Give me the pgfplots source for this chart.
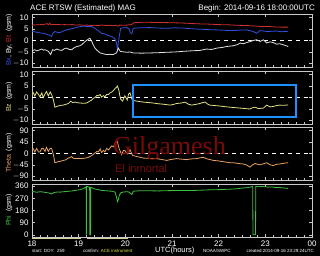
\documentclass[border=0pt]{standalone}
\usepackage{pgfplots}
\pgfplotsset{compat=1.18}
\usepackage{fontspec}
\setmainfont{Liberation Sans}
\newfontfamily\wmserif{Liberation Serif}
\definecolor{btred}{HTML}{D03030}
\definecolor{bxblue}{HTML}{3050E0}
\definecolor{bywhite}{HTML}{E0E0E0}
\definecolor{bzyel}{HTML}{E0E080}
\definecolor{thor}{HTML}{E8A060}
\definecolor{phigr}{HTML}{40C040}
\definecolor{frm}{HTML}{C8C8C8}
\definecolor{wm}{HTML}{7A0A0A}
\definecolor{boxblue}{HTML}{1E90FF}
\definecolor{beige}{HTML}{D8D0A0}
\definecolor{acey}{HTML}{E0E040}
\pgfplotsset{
 panel/.style={
  scale only axis, width=280pt, height=53pt,
  xmin=18, xmax=24,
  axis line style={frm, line width=0.6pt},
  tick style={frm, line width=0.5pt},
  major tick length=3pt, minor tick length=1.5pt,
  xtick={18,...,24}, minor x tick num=5,
  tick align=inside,
  yticklabel pos=left,
  tick label style={white, font=\fontsize{8}{9}\selectfont},
  anchor=north west,
  clip mode=individual,
 },
}
\tikzset{
 zline/.style={white, line width=0.6pt, dash pattern=on 4pt off 4pt},
 dl/.style={line width=0.8pt},
}
\begin{document}
\begin{tikzpicture}
\fill[black] (0,0) rectangle (320pt,256pt);
% Panel 1
\begin{axis}[panel, at={(32pt,242pt)}, ymin=-11.5, ymax=11.5, ytick={-10,-5,0,5,10}, yticklabels={$-$10,$-$5,0,5,10}, xticklabel=\empty]
\addplot[zline] coordinates {(18,0)(24,0)};
\addplot[dl, btred] coordinates {(18.00,6.6)(18.04,6.8)(18.08,6.7)(18.12,6.9)(18.16,6.8)(18.20,7.0)(18.24,6.8)(18.28,7.1)(18.32,7.3)(18.35,6.9)(18.38,7.4)(18.41,6.8)(18.45,7.0)(18.50,6.9)(18.56,7.0)(18.62,6.8)(18.70,6.9)(18.78,6.8)(18.86,6.9)(18.94,6.7)(19.02,6.8)(19.10,6.6)(19.18,6.7)(19.26,6.5)(19.34,6.6)(19.42,6.5)(19.50,6.7)(19.58,6.5)(19.66,6.6)(19.74,6.4)(19.80,6.6)(19.84,6.2)(19.88,6.7)(19.95,6.6)(20.05,6.7)(20.12,6.9)(20.16,7.2)(20.18,7.7)(20.25,7.8)(20.35,7.9)(20.50,7.9)(20.65,7.8)(20.80,7.8)(21.00,7.7)(21.20,7.6)(21.40,7.4)(21.60,7.2)(21.80,7.1)(22.00,6.9)(22.20,6.8)(22.40,6.6)(22.60,6.5)(22.75,6.3)(22.90,6.1)(23.05,6.1)(23.20,5.9)(23.35,5.8)(23.49,5.8)};
\addplot[dl, bxblue] coordinates {(18.00,4.1)(18.05,3.8)(18.10,3.6)(18.17,3.3)(18.24,3.1)(18.30,2.8)(18.35,2.4)(18.39,2.2)(18.42,1.8)(18.45,3.2)(18.49,3.9)(18.55,3.5)(18.60,3.4)(18.67,4.1)(18.74,4.6)(18.82,5.0)(18.89,5.3)(18.96,5.8)(19.03,6.0)(19.10,6.2)(19.18,6.1)(19.28,6.0)(19.34,5.4)(19.39,4.6)(19.44,4.0)(19.49,3.1)(19.55,2.9)(19.60,2.4)(19.66,2.0)(19.71,1.7)(19.75,1.2)(19.78,0.6)(19.81,-1.0)(19.83,-4.0)(19.85,-1.0)(19.87,1.7)(19.90,5.3)(19.96,5.5)(20.03,5.6)(20.08,5.0)(20.11,3.4)(20.14,2.9)(20.17,5.3)(20.30,5.5)(20.53,5.6)(20.70,5.4)(20.89,5.3)(21.05,5.5)(21.24,5.4)(21.40,5.1)(21.60,4.9)(21.80,4.7)(21.96,4.6)(22.15,4.4)(22.31,4.3)(22.45,4.5)(22.60,4.6)(22.70,4.1)(22.74,3.9)(22.81,3.1)(22.89,4.3)(23.03,3.9)(23.15,4.0)(23.24,4.1)(23.35,3.8)(23.49,4.0)};
\addplot[dl, bywhite] coordinates {(18.00,-4.7)(18.03,-4.2)(18.06,-4.0)(18.10,-4.5)(18.14,-4.3)(18.18,-3.9)(18.21,-3.7)(18.25,-4.2)(18.28,-4.0)(18.32,-4.4)(18.35,-4.7)(18.40,-6.1)(18.44,-4.0)(18.48,-4.3)(18.53,-3.7)(18.58,-4.1)(18.64,-4.3)(18.69,-3.6)(18.74,-3.3)(18.80,-3.9)(18.85,-4.0)(18.90,-3.2)(18.96,-2.6)(19.01,-2.4)(19.06,-1.9)(19.10,-1.2)(19.14,-0.4)(19.18,0.2)(19.21,0.6)(19.24,1.0)(19.28,-0.4)(19.31,-1.8)(19.35,-3.3)(19.40,-4.4)(19.46,-5.4)(19.53,-5.8)(19.60,-6.1)(19.67,-6.0)(19.74,-6.1)(19.81,-5.4)(19.85,-3.3)(19.89,-4.7)(19.95,-4.9)(20.03,-5.1)(20.10,-5.0)(20.17,-5.4)(20.35,-5.5)(20.53,-5.4)(20.70,-5.3)(20.89,-5.1)(21.05,-5.0)(21.24,-4.7)(21.40,-4.5)(21.60,-4.3)(21.74,-3.7)(21.85,-3.9)(21.96,-3.3)(22.08,-3.0)(22.17,-2.6)(22.31,-2.3)(22.40,-1.8)(22.46,-1.1)(22.53,-1.4)(22.60,-0.9)(22.67,-0.5)(22.74,0.0)(22.81,0.3)(22.89,-0.4)(22.96,0.3)(23.03,-1.1)(23.10,-0.6)(23.17,-0.9)(23.24,-1.6)(23.31,-1.4)(23.39,-1.9)(23.49,-2.6)};
\end{axis}
% Panel 2
\begin{axis}[panel, at={(32pt,185pt)}, ymin=-11.5, ymax=11.5, ytick={-10,-5,0,5,10}, yticklabels={$-$10,$-$5,0,5,10}, xticklabel=\empty]
\addplot[zline] coordinates {(18,0)(24,0)};
\addplot[dl, bzyel] coordinates {(18.00,1.5)(18.03,2.0)(18.06,0.7)(18.10,2.4)(18.14,1.3)(18.17,0.3)(18.21,2.0)(18.24,0.0)(18.28,1.6)(18.31,2.6)(18.35,0.7)(18.39,2.4)(18.42,1.3)(18.46,-1.1)(18.49,-4.2)(18.53,-3.9)(18.56,-3.7)(18.62,-3.4)(18.67,-3.3)(18.72,-3.0)(18.78,-2.6)(18.83,-1.6)(18.87,-2.2)(18.92,-2.0)(18.98,-2.3)(19.03,-2.4)(19.10,-2.5)(19.17,-2.4)(19.22,-1.8)(19.28,-1.1)(19.31,-0.4)(19.35,0.0)(19.39,0.9)(19.42,0.7)(19.46,1.3)(19.49,0.2)(19.53,0.8)(19.56,0.3)(19.60,1.3)(19.64,1.3)(19.67,2.0)(19.71,2.4)(19.75,3.1)(19.78,3.9)(19.81,4.4)(19.83,5.0)(19.86,3.3)(19.88,1.0)(19.90,-0.7)(19.94,-1.6)(19.99,0.7)(20.04,-1.1)(20.07,1.5)(20.10,2.0)(20.14,-0.7)(20.17,-1.3)(20.28,-1.7)(20.39,-2.0)(20.50,-2.2)(20.60,-2.4)(20.70,-2.7)(20.81,-2.9)(20.89,-3.1)(20.96,-3.3)(21.03,-3.0)(21.10,-2.6)(21.20,-2.4)(21.28,-2.0)(21.35,-2.9)(21.42,-3.3)(21.53,-2.9)(21.60,-2.6)(21.66,-2.2)(21.71,-2.0)(21.76,-2.8)(21.81,-3.3)(21.92,-3.5)(22.03,-3.7)(22.14,-4.0)(22.24,-4.2)(22.35,-4.4)(22.46,-4.6)(22.57,-4.8)(22.67,-5.0)(22.72,-4.5)(22.78,-4.2)(22.85,-4.8)(22.96,-4.6)(23.03,-3.3)(23.10,-4.1)(23.17,-3.9)(23.24,-3.5)(23.31,-3.3)(23.40,-3.4)(23.49,-3.2)};
\draw[boxblue, line width=2pt] (axis cs:20.16,5.4) rectangle (axis cs:23.66,-8.5);
\end{axis}
% Panel 3
\begin{axis}[panel, at={(32pt,129pt)}, ymin=-103.5, ymax=103.5, ytick={-90,-45,0,45,90}, yticklabels={$-$90,$-$45,0,45,90}, xticklabel=\empty]
\addplot[zline] coordinates {(18,0)(24,0)};
\addplot[dl, thor] coordinates {(18.00,14)(18.03,18)(18.06,6)(18.10,20)(18.14,6)(18.17,6)(18.21,20)(18.24,20)(18.28,8)(18.31,24)(18.35,8)(18.39,20)(18.42,20)(18.46,-5)(18.49,-36)(18.53,-34)(18.56,-32)(18.62,-30)(18.67,-27)(18.72,-25)(18.78,-18)(18.85,-12)(18.88,-18)(18.92,-20)(18.98,-19)(19.06,-20)(19.14,-18)(19.21,-15)(19.26,-10)(19.31,-4)(19.35,2)(19.39,8)(19.42,6)(19.46,18)(19.49,4)(19.53,12)(19.56,6)(19.60,20)(19.64,14)(19.71,30)(19.75,26)(19.78,41)(19.83,47)(19.85,30)(19.87,18)(19.90,5)(19.92,-4)(19.96,12)(19.99,12)(20.04,-2)(20.06,0)(20.10,15)(20.14,-2)(20.16,-8)(20.25,-12)(20.39,-18)(20.50,-19)(20.67,-20)(20.80,-24)(20.89,-27)(20.96,-24)(21.10,-20)(21.20,-22)(21.31,-24)(21.42,-21)(21.53,-20)(21.60,-17)(21.67,-15)(21.75,-21)(21.89,-27)(22.00,-29)(22.10,-32)(22.24,-36)(22.31,-36)(22.42,-39)(22.53,-41)(22.60,-45)(22.67,-53)(22.72,-45)(22.78,-39)(22.85,-43)(22.89,-44)(22.96,-40)(23.03,-36)(23.10,-44)(23.17,-47)(23.24,-42)(23.31,-41)(23.40,-38)(23.49,-36)};
\end{axis}
% Panel 4
\begin{axis}[panel, at={(32pt,72pt)}, ymin=-15, ymax=375, ytick={0,90,180,270,360}, yticklabels={0,90,180,270,360}, xticklabels={18,19,20,21,22,23,00}]
\addplot[dl, phigr] coordinates {(18.00,320)(18.05,318)(18.10,314)(18.17,318)(18.24,316)(18.30,312)(18.35,310)(18.39,306)(18.42,302)(18.46,310)(18.49,314)(18.55,316)(18.60,315)(18.67,318)(18.74,320)(18.82,323)(18.89,325)(18.96,330)(19.03,333)(19.10,340)(19.15,352)(19.16,355)(19.165,2)(19.17,358)(19.20,355)(19.235,350)(19.24,2)(19.255,1)(19.26,350)(19.30,345)(19.35,338)(19.40,335)(19.46,330)(19.50,328)(19.55,326)(19.60,325)(19.66,323)(19.72,322)(19.78,315)(19.81,280)(19.83,245)(19.85,260)(19.87,290)(19.90,310)(19.96,316)(20.03,318)(20.08,316)(20.11,305)(20.14,298)(20.17,322)(20.30,325)(20.50,325)(20.70,324)(20.90,326)(21.10,327)(21.30,327)(21.50,328)(21.65,330)(21.80,332)(21.95,333)(22.10,335)(22.25,337)(22.40,340)(22.50,345)(22.60,348)(22.68,352)(22.73,358)(22.735,2)(22.745,1)(22.79,3)(22.795,358)(22.85,355)(22.95,357)(23.05,352)(23.15,353)(23.20,350)(23.30,349)(23.40,346)(23.49,342)};
\draw[beige, line width=1pt] (axis cs:18,-24) -- (axis cs:19.06,-24);
\draw[beige, line width=1pt] (axis cs:19.17,-24) -- (axis cs:20.05,-24);
\end{axis}
% y labels
\begin{scope}[every node/.style={text=white, rotate=90, font=\fontsize{7}{8}\selectfont}]
\node at (9pt,216pt) {\textcolor{bxblue}{Bx}, By, \textcolor{btred}{Bt}\ \ (gsm)};
\node at (9pt,159pt) {\textcolor{bzyel}{Bz}\ \ (gsm)};
\node at (9pt,103pt) {\textcolor{thor}{Theta}\ \ (gsm)};
\node at (9pt,46pt) {\textcolor{phigr}{Phi}\ \ (gsm)};
\end{scope}
% titles
\node[anchor=base west, text=white, font=\fontsize{8}{9}\selectfont, inner sep=0pt] at (30pt,245pt) {ACE RTSW (Estimated) MAG};
\node[anchor=base east, text=white, font=\fontsize{8}{9}\selectfont, inner sep=0pt] at (315pt,245pt) {Begin: 2014-09-16 18:00:00UTC};
% bottom texts
\begin{scope}[every node/.style={anchor=base west, text=white, inner sep=0pt, font=\fontsize{4.5}{5}\selectfont}]
\node at (32pt,3.5pt) {start: DOY:\ \ 259};
\node at (83pt,3.5pt) {confirm: \textcolor{acey}{ACE instrument}};
\node at (203pt,3.5pt) {NOAA/SWPC};
\node[anchor=base east] at (314pt,3.5pt) {created:2014-09-16 23:29:24UTC};
\node[font=\fontsize{7.5}{8}\selectfont] at (155pt,3.5pt) {UTC(hours)};
\end{scope}
% watermark
\node[anchor=base west, text=wm, inner sep=0pt, font=\wmserif\fontsize{26}{28}\selectfont] at (113pt,101pt) {Gilgamesh};
\node[anchor=base west, text=wm, inner sep=0pt, font=\fontsize{11}{12}\selectfont] at (115pt,83pt) {El inmortal};
\pgfresetboundingbox
\path[use as bounding box] (0,0) rectangle (320pt,256pt);
\end{tikzpicture}
\end{document}
